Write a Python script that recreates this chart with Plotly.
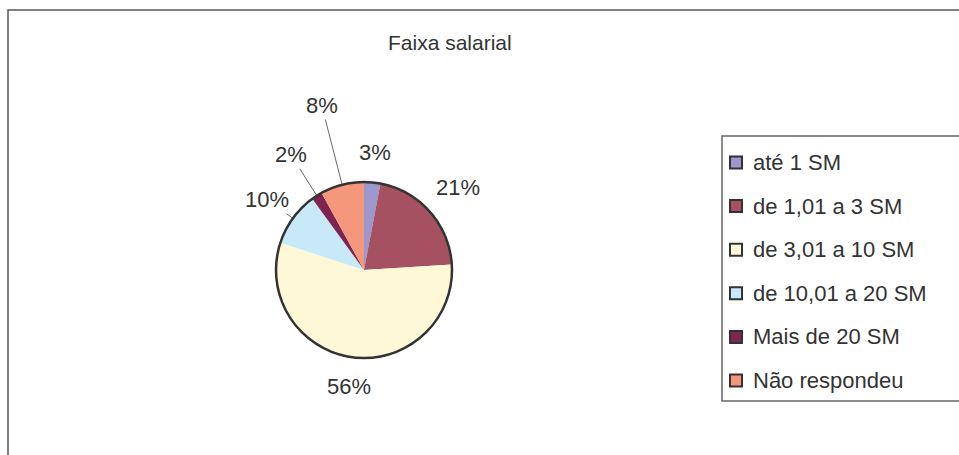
import math
import plotly.graph_objects as go

categories = ["até 1 SM", "de 1,01 a 3 SM", "de 3,01 a 10 SM",
              "de 10,01 a 20 SM", "Mais de 20 SM", "Não respondeu"]
values = [3, 21, 56, 10, 2, 8]
colors = ["#9C97CC", "#A55162", "#FFF8D6", "#C8EAF8", "#7E2450", "#F5977B"]
title_text = "Faixa salarial"

W, H = 959, 455


def px(x):
    return x / W


def py(y):
    return 1 - y / H


FONT = "Liberation Sans, Arial"
TXT = "#333333"
cx, cy, r = 364, 270, 88
dom_x = [px(cx - r), px(cx + r)]
dom_y = [py(cy + r), py(cy - r)]

fig = go.Figure()
fig.add_trace(go.Pie(
    labels=categories, values=values, sort=False, direction="clockwise",
    rotation=0, marker=dict(colors=colors, line=dict(width=0)),
    textinfo="none", domain=dict(x=dom_x, y=dom_y), showlegend=False,
    hoverinfo="label+percent",
))
# outer outline of the pie
fig.add_trace(go.Pie(
    values=[1], labels=[""], sort=False, textinfo="none",
    marker=dict(colors=["rgba(0,0,0,0)"], line=dict(color="#333333", width=2.5)),
    domain=dict(x=dom_x, y=dom_y), showlegend=False, hoverinfo="skip",
))

shapes = [
    dict(type="rect", xref="paper", yref="paper", x0=px(8), x1=1.02,
         y0=-0.03, y1=py(10), line=dict(color="#555555", width=1.5)),
    dict(type="rect", xref="paper", yref="paper", x0=px(722), x1=1.02,
         y0=py(401), y1=py(136), line=dict(color="#666666", width=1.5),
         fillcolor="white"),
]
annotations = [
    dict(text=title_text, x=px(450), y=py(42), xref="paper", yref="paper",
         showarrow=False, font=dict(family=FONT, size=21, color=TXT),
         xanchor="center", yanchor="middle"),
]

# percentage labels placed around the pie (label distance as multiple of radius)
label_dist = [1.34, 1.42, 1.34, 1.36, 1.55, 1.93]
leader = [False, False, False, True, True, True]
total = sum(values)
cum = 0
for v, d, lead in zip(values, label_dist, leader):
    mid = 2 * math.pi * (cum + v / 2) / total
    cum += v
    sx, sy = math.sin(mid), -math.cos(mid)
    ex, ey = cx + r * sx, cy + r * sy          # point on the rim
    lx, ly = cx + r * d * sx, cy + r * d * sy  # label centre
    annotations.append(dict(
        text=f"{round(100 * v / total)}%", x=px(ex), y=py(ey),
        xref="paper", yref="paper", ax=lx - ex, ay=ly - ey,
        showarrow=True, arrowhead=0, arrowwidth=0.8,
        arrowcolor="#444444" if lead else "rgba(0,0,0,0)",
        standoff=0, startstandoff=0,
        font=dict(family=FONT, size=22, color=TXT)))

ys = [162.5 + 43.6 * i for i in range(len(categories))]
for cat, col, yy in zip(categories, colors, ys):
    shapes.append(dict(type="rect", xref="paper", yref="paper",
                       x0=px(730), x1=px(742), y0=py(yy + 6), y1=py(yy - 6),
                       fillcolor=col, line=dict(color="#333333", width=2)))
    annotations.append(dict(text=cat, x=px(751), y=py(yy), xref="paper", yref="paper",
                            showarrow=False, xanchor="left", yanchor="middle",
                            font=dict(family=FONT, size=22, color=TXT)))

fig.update_layout(
    width=W, height=H, margin=dict(l=0, r=0, t=0, b=0),
    paper_bgcolor="white", plot_bgcolor="white",
    shapes=shapes, annotations=annotations,
)
fig.write_html("out.html", config={"displayModeBar": False},
               post_script="document.body.style.margin='0px';"
                           "document.body.style.overflow='hidden';")
